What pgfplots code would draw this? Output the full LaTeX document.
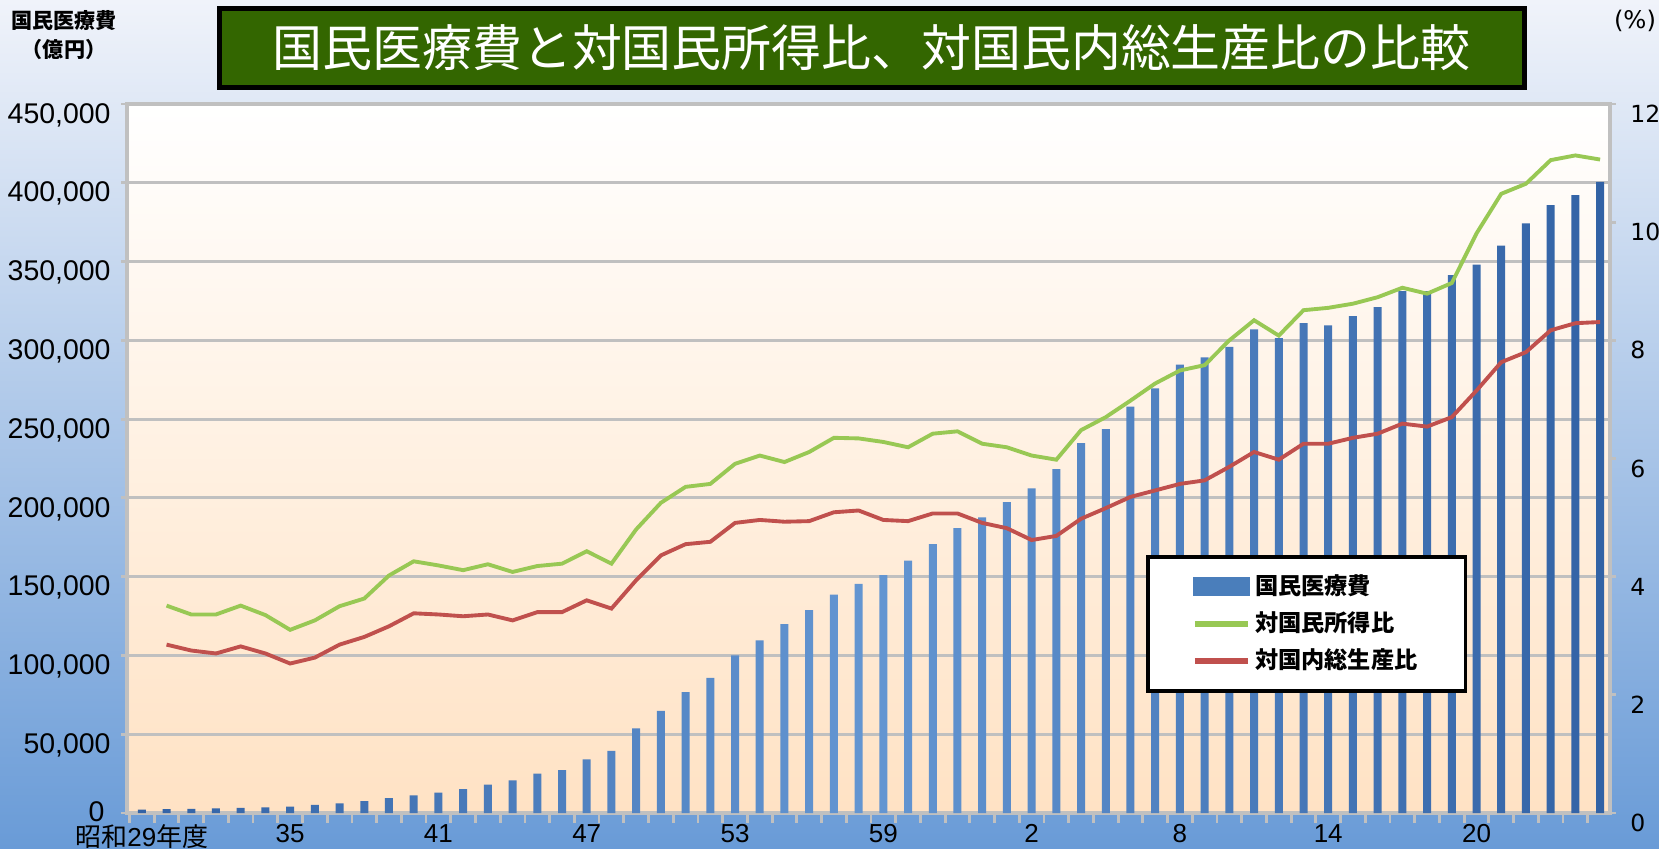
\documentclass[border=0pt]{standalone}
\usepackage{fontspec}
\setmainfont{Liberation Sans}
\newfontfamily\cjk{Noto Sans CJK JP}
\newfontfamily\dejavu{DejaVu Sans}
\usepackage{pgfplots}
\usepackage{pgfplotstable}
\pgfplotsset{compat=1.18}

\definecolor{titlegreen}{RGB}{51,102,0}
\definecolor{barblue}{RGB}{74,126,187}
\definecolor{bardark}{RGB}{50,98,165}
\definecolor{barlight}{RGB}{100,150,210}
\definecolor{linegreen}{RGB}{152,200,84}
\definecolor{linered}{RGB}{192,80,77}
\definecolor{peach}{RGB}{255,226,196}
\definecolor{peachmid}{RGB}{255,245,235}
\definecolor{gridgray}{RGB}{192,192,192}
\definecolor{bgtop}{RGB}{240,243,250}
\definecolor{bgmid}{RGB}{186,205,234}
\definecolor{bgbot}{RGB}{105,155,215}

\pgfplotstableread{
x y
0 2152
1 2388
2 2583
3 2897
4 3230
5 3625
6 4095
7 5130
8 6132
9 7541
10 9389
11 11224
12 13002
13 15116
14 18016
15 20780
16 24962
17 27250
18 33994
19 39496
20 53786
21 64779
22 76684
23 85686
24 100042
25 109510
26 119805
27 128709
28 138659
29 145438
30 150932
31 160159
32 170690
33 180759
34 187554
35 197290
36 206074
37 218260
38 234784
39 243631
40 257908
41 269577
42 284542
43 289149
44 295823
45 307019
46 301418
47 310998
48 309507
49 315375
50 321111
51 331289
52 331276
53 341360
54 348084
55 360067
56 374202
57 385850
58 392117
59 400610
}\costtable

\pgfplotstableread{
x g r
1 3.51 2.85
2 3.36 2.75
3 3.36 2.70
4 3.51 2.82
5 3.35 2.70
6 3.10 2.53
7 3.26 2.63
8 3.50 2.85
9 3.63 2.98
10 4.02 3.16
11 4.26 3.38
12 4.19 3.36
13 4.11 3.33
14 4.21 3.36
15 4.08 3.26
16 4.18 3.40
17 4.22 3.40
18 4.43 3.60
19 4.22 3.46
20 4.80 3.94
21 5.25 4.36
22 5.52 4.55
23 5.57 4.59
24 5.91 4.91
25 6.05 4.96
26 5.94 4.93
27 6.11 4.94
28 6.35 5.09
29 6.34 5.12
30 6.28 4.96
31 6.19 4.94
32 6.42 5.07
33 6.46 5.07
34 6.25 4.91
35 6.19 4.82
36 6.05 4.62
37 5.98 4.69
38 6.48 4.98
39 6.70 5.16
40 6.98 5.35
41 7.27 5.46
42 7.49 5.57
43 7.58 5.63
44 8.00 5.86
45 8.34 6.11
46 8.08 5.98
47 8.51 6.25
48 8.55 6.25
49 8.62 6.35
50 8.73 6.42
51 8.89 6.59
52 8.79 6.54
53 8.97 6.70
54 9.81 7.15
55 10.48 7.63
56 10.65 7.80
57 11.05 8.17
58 11.13 8.29
59 11.06 8.31
}\ratiotable

\begin{document}
\begin{tikzpicture}
\useasboundingbox (0mm,0mm) rectangle (165.9mm,84.8mm);
\shade[top color=bgtop, middle color=bgmid, bottom color=bgbot] (0mm,0mm) rectangle (165.9mm,84.8mm);

\begin{axis}[
  at={(12.7mm,3.5mm)}, anchor=south west,
  width=148.3mm, height=70.9mm, scale only axis,
  xmin=-0.6, xmax=59.4, ymin=0, ymax=450000,
  enlargelimits=false,
  axis background/.style={top color=white, middle color=peachmid, bottom color=peach},
  axis line style={gridgray, line width=1pt},
  ytick={50000,100000,...,450000},
  extra y ticks={0},
  extra y tick style={grid=none, yticklabel style={yshift=1.2mm, xshift=-0.6mm}},
  ymajorgrids, grid style={gridgray, line width=0.8pt},
  scaled y ticks=false,
  /pgf/number format/.cd, fixed, 1000 sep={,}, assume math mode=true,
  /pgfplots/.cd,
  yticklabel style={font=\fontsize{8.1}{9}\selectfont, yshift=-1.1mm, xshift=0.2mm},
  ytick pos=left,
  xtick={0,6,...,54},
  xticklabels={{\cjk 昭和}29{\cjk 年度},35,41,47,53,59,2,8,14,20},
  xticklabel style={font=\fontsize{7.4}{8}\selectfont, yshift=0.7mm},
  xtick pos=bottom,
  minor xtick={-0.5,0.5,...,59.5},
  tick align=outside,
  major x tick style={draw=none},
  minor x tick style={gridgray, line width=0.8pt},
  major y tick style={gridgray, line width=0.8pt},
  major tick length=0.6mm,
  minor tick length=1mm,
]
\addplot[ybar, bar width=0.8mm, bar shift=0pt, draw=none,
  left color=bardark, right color=bardark, middle color=barlight]
  table[x=x, y=y]{\costtable};
\end{axis}

\begin{axis}[
  at={(12.7mm,3.5mm)}, anchor=south west,
  width=148.3mm, height=70.9mm, scale only axis,
  xmin=-0.6, xmax=59.4, ymin=0, ymax=12,
  enlargelimits=false,
  axis x line=none,
  axis y line*=right,
  axis line style={gridgray, line width=1pt},
  ytick={0,2,...,12},
  tick align=outside,
  major tick length=0.6mm,
  major y tick style={gridgray, line width=0.8pt},
  yticklabel style={font=\dejavu\fontsize{6.7}{8}\selectfont, yshift=-1mm, xshift=0.2mm},
  /pgf/number format/assume math mode=true,
  legend style={at={(0.687,0.364)}, anchor=north west, draw=black, line width=1.1pt,
    fill=white, font=\cjk\bfseries\fontsize{6.6}{7}\selectfont,
    inner xsep=4.4mm, inner ysep=1.45mm, row sep=0.6mm,
    nodes={inner sep=0.4mm, text height=1.9mm, text depth=0.4mm},
    /tikz/every even column/.append style={column sep=1.1mm}},
  legend cell align=left,
]
\addlegendimage{legend image code/.code={\fill[barblue] (0mm,-0.75mm) rectangle (5.3mm,0.75mm);}}
\addlegendentry{国民医療費}
\addplot[linegreen, line width=1.1pt,
  legend image code/.code={\draw[linegreen, line width=1.8pt] (0mm,0mm) -- (5.3mm,0mm);}]
  table[x=x, y=g]{\ratiotable};
\addlegendentry{対国民所得比}
\addplot[linered, line width=1.1pt,
  legend image code/.code={\draw[linered, line width=1.8pt] (0mm,0mm) -- (5.3mm,0mm);}]
  table[x=x, y=r]{\ratiotable};
\addlegendentry{対国内総生産比}
\end{axis}

\node[fill=titlegreen, draw=black, line width=0.5mm, minimum width=130.5mm,
  minimum height=7.85mm, inner sep=0pt, text=white,
  font=\cjk\fontsize{14.2}{16}\selectfont] at (87.15mm,80mm)
  {国民医療費と対国民所得比、対国民内総生産比の比較};
\node[font=\cjk\bfseries\fontsize{6}{8.25}\selectfont, align=center, inner sep=0pt]
  at (6.4mm,81.25mm) {国民医療費\\（億円）};
\node[font=\dejavu\fontsize{6.9}{8}\selectfont, inner sep=0pt] at (163.5mm,82.7mm) {(\%)};
\end{tikzpicture}
\end{document}
